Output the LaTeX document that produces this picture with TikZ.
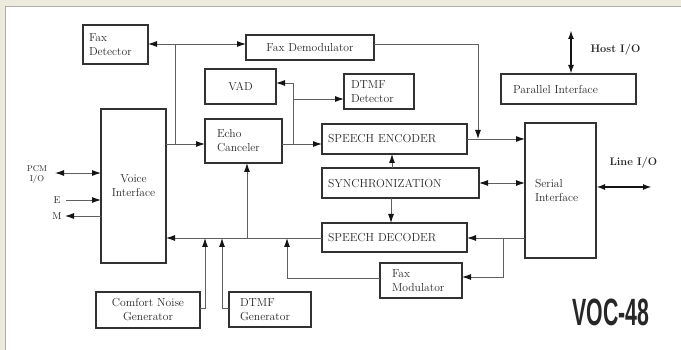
\documentclass[tikz,border=0pt]{standalone}
\usepackage{fontspec}
\usepackage{tikz}
\usetikzlibrary{arrows.meta}
\newfontfamily\vocfont{Liberation Sans}
\newcommand{\boxfont}{\fontsize{11.6}{14}\selectfont}

\begin{document}
\begin{tikzpicture}[x=1pt,y=-1pt,
  blk/.style={draw=boxc,line width=1.1pt,inner ysep=0pt,outer sep=0pt,anchor=north west,text=txtc,font=\boxfont},
  wire/.style={draw=wirec,line width=0.9pt},
  bold io/.style={draw=tipc,line width=1.8pt},
  lbl/.style={text=txtc,font=\fontsize{11}{13}\selectfont\bfseries},
  >={Latex[length=9pt,width=6pt,color=tipc]}]
\definecolor{bgc}{RGB}{236,235,221}
\definecolor{edgec}{RGB}{175,175,165}
\definecolor{boxc}{RGB}{50,50,50}
\definecolor{wirec}{RGB}{95,95,95}
\definecolor{tipc}{RGB}{20,20,20}
\definecolor{txtc}{RGB}{40,40,40}
% frame
\fill[bgc] (0,0) rectangle (681,350);
\fill[edgec] (4.5,6) rectangle (681,350);
\fill[white] (6,7.5) rectangle (681,350);
\useasboundingbox (0,0) rectangle (681,350);
% blocks
\node[blk,text width=53pt,inner xsep=6pt,minimum height=39pt,align=left] (faxdet) at (83,25) {Fax\\Detector};
\node[blk,text width=116pt,inner xsep=6pt,minimum height=25pt,align=center] (faxdem) at (246,35) {Fax Demodulator};
\node[blk,text width=59pt,inner xsep=6pt,minimum height=35pt,align=center] (vad) at (205,69) {VAD};
\node[blk,text width=56pt,inner xsep=7pt,minimum height=35pt,align=left] (dtmfdet) at (344,74) {DTMF\\Detector};
\node[blk,text width=53pt,inner xsep=12pt,minimum height=44pt,align=left] (echo) at (205,119) {Echo\\Canceler};
\node[blk,text width=133pt,inner xsep=6pt,minimum height=30pt,align=left] (enc) at (322,124) {SPEECH ENCODER};
\node[blk,text width=145pt,inner xsep=6pt,minimum height=30pt,align=left] (sync) at (322,168) {SYNCHRONIZATION};
\node[blk,text width=133pt,inner xsep=6pt,minimum height=29pt,align=left] (dec) at (322,223) {SPEECH DECODER};
\node[blk,text width=58pt,inner xsep=12pt,minimum height=35pt,align=left] (faxmod) at (380,263) {Fax\\Modulator};
\node[blk,text width=55pt,inner xsep=5pt,minimum height=154pt,align=center] (voice) at (101,109) {Voice\\Interface};
\node[blk,text width=51pt,inner xsep=10pt,minimum height=135pt,align=left] (serial) at (525,123) {Serial\\Interface};
\node[blk,text width=111pt,inner xsep=12pt,minimum height=30pt,align=left] (par) at (501,74) {Parallel Interface};
\node[blk,text width=94pt,inner xsep=5pt,minimum height=36pt,align=center] (cng) at (96,292) {Comfort Noise\\Generator};
\node[blk,text width=60pt,inner xsep=11pt,minimum height=35pt,align=left] (dtmfgen) at (229,292) {DTMF\\Generator};
% labels
\node[lbl,anchor=west] (hostlbl) at (587,50) {Host I/O};
\node[lbl,anchor=west] (linelbl) at (606,163) {Line I/O};
\node[text=txtc,font=\fontsize{8.5}{10}\selectfont,align=center] (pcmlbl) at (37,175) {PCM\\I/O};
\node[text=txtc,font=\fontsize{10}{12}\selectfont] (elbl) at (57,200) {E};
\node[text=txtc,font=\fontsize{10}{12}\selectfont] (mlbl) at (57,216) {M};
\node[text=black!85] (voc) at (611,312) {\vocfont\bfseries\fontsize{38}{38}\selectfont\scalebox{0.56}[1]{VOC-48}};
% branch points
\coordinate (J1) at (175,44);
\coordinate (J2) at (175,144);
\coordinate (J3) at (478,139);
\coordinate (J4) at (293,144);
\coordinate (J6) at (293,83);
\coordinate (J7) at (293,99);
\coordinate (J5) at (503,238);
\coordinate (J8) at (503,277);
\coordinate (J9) at (287,278);
\coordinate (B1) at (287,238);
\coordinate (B2) at (247,238);
\coordinate (B3) at (205,238);
\coordinate (B4) at (222,238);
\coordinate (C1) at (205,308);
\coordinate (C2) at (222,308);
\coordinate (S1) at (392,0);
\coordinate (S2) at (391,0);
\coordinate (host) at (571,30);
\coordinate (line) at (652,187);
\coordinate (pcm) at (55,173);
\coordinate (ein) at (66,200);
\coordinate (mout) at (65,216);
% fax path
\draw[wire,->] (J1) -- (faxdet.east |- J1);
\draw[wire,->] (J1) -- (J1 -| faxdem.west);
\draw[wire] (J1) -- (J2);
\draw[wire,->] (voice.east |- J2) -- (J2 -| echo.west);
\draw[wire,->] (faxdem.east |- J1) -- (J3 |- J1) -- (J3);
% encoder side
\draw[wire,->] (echo.east |- J4) -- (J4 -| enc.west);
\draw[wire,->] (J4) -- (J6) -- (J6 -| vad.east);
\draw[wire,->] (J7) -- (J7 -| dtmfdet.west);
\draw[wire,->] (enc.east |- J3) -- (J3 -| serial.west);
\draw[wire,->] (S1 |- sync.north) -- (S1 |- enc.south);
\draw[wire,->] (S2 |- sync.south) -- (S2 |- dec.north);
\draw[wire,<->] (sync.east) -- (sync.east -| serial.west);
% decoder side
\draw[wire,->] (serial.west |- J5) -- (J5 -| dec.east);
\draw[wire,->] (J5) -- (J8) -- (J8 -| faxmod.east);
\draw[wire,->] (faxmod.west |- J9) -- (J9) -- (B1);
\draw[wire,->] (dec.west |- J5) -- (J5 -| voice.east);
\draw[wire,->] (B2) -- (B2 |- echo.south);
\draw[wire,->] (cng.east |- C1) -- (C1) -- (B3);
\draw[wire,->] (dtmfgen.west |- C2) -- (C2) -- (B4);
% outside ports
\draw[bold io,<->] (serial.east |- line) -- (line);
\draw[bold io,<->] (host) -- (host |- par.north);
\draw[wire,<->] (pcm) -- (pcm -| voice.west);
\draw[wire,->] (ein) -- (ein -| voice.west);
\draw[wire,->] (mout -| voice.west) -- (mout);
\end{tikzpicture}
\end{document}
